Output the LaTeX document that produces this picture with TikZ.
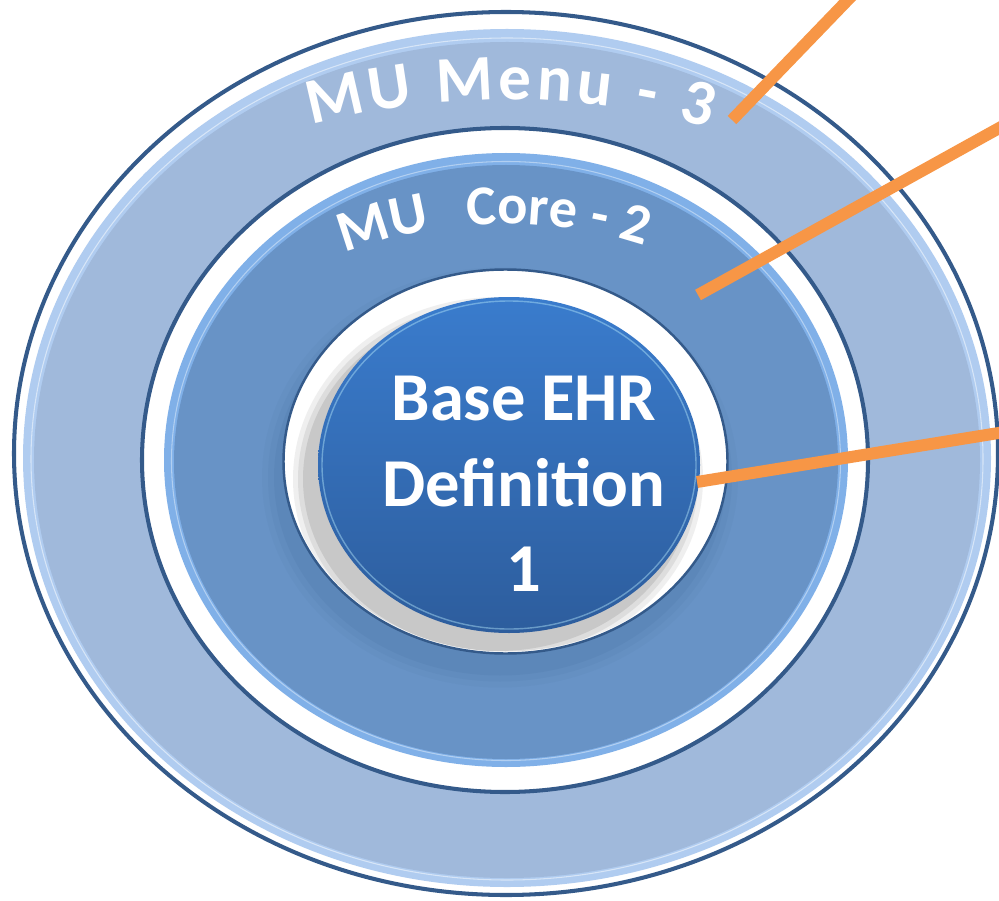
\documentclass[tikz,border=0pt]{standalone}
\usepackage{fontspec}
\setmainfont{Carlito}
\usetikzlibrary{decorations.text}

\definecolor{ringline}{RGB}{52,90,138}
\definecolor{menufill}{RGB}{160,185,219}
\definecolor{menuedge}{RGB}{176,204,240}
\definecolor{corefill}{RGB}{104,147,198}
\definecolor{coreedge}{RGB}{128,176,232}
\definecolor{basetop}{RGB}{58,124,205}
\definecolor{basebottom}{RGB}{45,93,157}
\definecolor{leader}{RGB}{247,150,70}

\begin{document}
\begin{tikzpicture}[
   ringborder/.style={draw=ringline,line width=2.3pt,fill=white},
   leaderline/.style={draw=leader,line width=6.8pt},
   arctext/.style={decorate,decoration={text along path,text color=white,#1}}
]
   \useasboundingbox (0,0) rectangle (19.98,18);
   \clip (0,0) rectangle (19.98,18);

   \coordinate (menuc) at (10.12,8.93);
   \coordinate (corec) at (10.10,8.80);
   \coordinate (basec) at (10.11,8.77);

   \draw[ringborder] (menuc) ellipse [x radius=9.84cm, y radius=8.83cm];
   \fill[menuedge] (10.14,8.84) ellipse [x radius=9.68cm, y radius=8.58cm];
   \draw[white,opacity=0.5,line width=0.6pt] (10.14,8.82) ellipse [x radius=9.52cm, y radius=8.42cm];
   \fill[menufill] (10.14,8.80) ellipse [x radius=9.46cm, y radius=8.36cm];

   \draw[ringborder] (corec) ellipse [x radius=7.26cm, y radius=6.64cm];
   \fill[coreedge] (10.12,8.80) ellipse [x radius=6.84cm, y radius=6.14cm];
   \draw[white,opacity=0.4,line width=0.6pt] (10.12,8.78) ellipse [x radius=6.69cm, y radius=5.99cm];
   \fill[corefill] (10.12,8.76) ellipse [x radius=6.64cm, y radius=5.94cm];

   \foreach \s/\o in {0.36/0.05,0.24/0.07,0.12/0.09}
      \fill[ringline,opacity=\o] (10.00,8.45) ellipse [x radius=4.40cm+\s cm, y radius=3.84cm+\s cm];
   \draw[ringline,line width=1.4pt,fill=white] (basec) ellipse [x radius=4.44cm, y radius=3.84cm];

   \begin{scope}
      \clip (basec) ellipse [x radius=4.40cm, y radius=3.80cm];
      \foreach \s/\o in {0.28/0.15,0.18/0.2,0.08/0.3}
         \fill[black!40,opacity=\o] (9.96,8.42) ellipse [x radius=3.82cm+\s cm, y radius=3.36cm+\s cm];
   \end{scope}
   \shade[top color=basetop,bottom color=basebottom] (10.18,8.70) ellipse [x radius=3.82cm, y radius=3.36cm];
   \draw[cyan!30!white,opacity=0.45,line width=0.8pt] (10.18,8.70) ellipse [x radius=3.74cm, y radius=3.28cm];

   \node[text=white,font=\bfseries\fontsize{39}{48.8}\selectfont,align=center,inner sep=0pt] (base) at (10.48,8.32) {Base EHR\\Definition\\1};

   \path[arctext={text={|\bfseries\fontsize{37}{37}\selectfont|MU Menu - 3},text align={fit to path}}]
      (menuc) ++(112:10.4cm and 7.08cm) arc[start angle=112,end angle=67,x radius=10.4cm,y radius=7.08cm];
   \path[arctext={text={|\bfseries\fontsize{33}{33}\selectfont|MU},text align=left}]
      (corec) ++(119:6.6cm and 4.72cm) arc[start angle=119,end angle=100,x radius=6.6cm,y radius=4.72cm];
   \path[arctext={text={|\bfseries\fontsize{32}{32}\selectfont|Core - 2},text align=left}]
      (corec) ++(96.5:6.6cm and 4.72cm) arc[start angle=96.5,end angle=50,x radius=6.6cm,y radius=4.72cm];

   \coordinate (menupt) at (14.64,15.60);
   \coordinate (menuend) at (17.34,18.40);
   \coordinate (corept) at (13.96,12.10);
   \coordinate (coreend) at (20.40,15.67);
   \coordinate (basept) at (13.94,8.36);
   \coordinate (baseend) at (20.40,9.41);
   \draw[leaderline] (menupt) -- (menuend);
   \draw[leaderline] (corept) -- (coreend);
   \draw[leaderline] (basept) -- (baseend);
\end{tikzpicture}
\end{document}
